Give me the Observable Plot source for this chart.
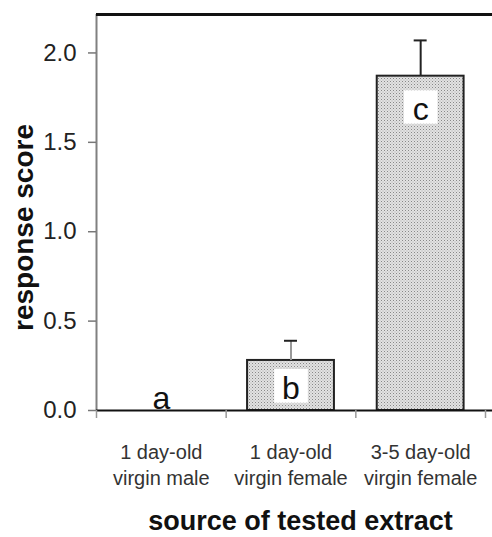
<!DOCTYPE html>
<html>
<head>
<meta charset="utf-8">
<script src="https://cdn.jsdelivr.net/npm/d3@7"></script>
<script src="https://cdn.jsdelivr.net/npm/@observablehq/plot@0.6"></script>
<style>
  html, body { margin: 0; padding: 0; background: #fff; }
  #chart svg { display: block; }
</style>
</head>
<body>
<div id="chart"></div>
<script>
// ---- data ----
const categories = ["1 day-old\nvirgin male", "1 day-old\nvirgin female", "3-5 day-old\nvirgin female"];
const means = [0, 0.28, 1.87];
const errors = [0, 0.11, 0.20];
const letters = ["a", "b", "c"];
const letterY = [0.01, 0.065, 1.625];   // baseline of group letters (response-score units)
const yTicks = [0, 0.5, 1.0, 1.5, 2.0];
const yMax = 2.215;
const yTitle = "response score";
const xTitle = "source of tested extract";

const rows = categories.map((c, i) => ({i, cat: c, mean: means[i], err: errors[i], letter: letters[i], ly: letterY[i]}));
const half = 0.335;
const boundaries = [-0.5, 0.5, 1.5, 2.5];

const font = "'Liberation Sans', Arial, sans-serif";

const chart = Plot.plot({
  width: 492,
  height: 537,
  marginLeft: 96,
  marginRight: 0,
  marginTop: 14,
  marginBottom: 127,
  style: {fontFamily: font, background: "#fff", color: "#222"},
  x: {type: "linear", domain: [-0.5, 2.5], range: [96, 485], axis: null},
  y: {domain: [0, yMax], axis: null},
  marks: [
    // bars
    Plot.rectY(rows.filter(d => d.mean > 0), {
      x1: d => d.i - half, x2: d => d.i + half, y1: 0, y2: "mean",
      fill: "url(#stipple)", stroke: "#222", strokeWidth: 2
    }),
    // error bars
    Plot.ruleX(rows.filter(d => d.err > 0), {
      x: "i", y1: "mean", y2: d => d.mean + d.err,
      stroke: d => d.i === 1 ? "#999" : "#222", strokeWidth: 2
    }),
    Plot.ruleY(rows.filter(d => d.err > 0), {
      y: d => d.mean + d.err, x1: d => d.i - 0.05, x2: d => d.i + 0.05,
      stroke: "#222", strokeWidth: 2
    }),
    // white boxes behind letters
    Plot.dot(rows.filter(d => d.mean > 0), {
      x: "i", y: "ly", symbol: "square", r: 19, fill: "white", stroke: "none", dy: -13
    }),
    // axes lines
    Plot.ruleX([boundaries[0]], {stroke: "#808080", strokeWidth: 2}),
    Plot.ruleY([yMax], {stroke: "#111", strokeWidth: 3}),
    Plot.ruleY([0], {stroke: "#111", strokeWidth: 2}),
    // y axis
    Plot.axisY(yTicks, {
      tickFormat: d3.format(".1f"), tickSize: 8, tickPadding: 12,
      fontSize: 24, stroke: "#777", strokeWidth: 1.5, fill: "#222"
    }),
    // x boundary ticks
    Plot.ruleX(boundaries, {
      x: d => d, y1: 0, y2: 0, insetBottom: -8, stroke: "#999", strokeWidth: 1.5
    }),
    // category labels
    Plot.text(rows, {
      x: "i", text: "cat", frameAnchor: "bottom", lineAnchor: "top", dy: 30,
      fontSize: 20, lineHeight: 1.3, fill: "#333"
    }),
    // group letters
    Plot.text(rows, {
      x: "i", y: "ly", text: "letter", lineAnchor: "bottom", fontSize: 32, fill: "#111"
    }),
    // titles
    Plot.text([xTitle], {
      frameAnchor: "bottom", lineAnchor: "bottom", dy: 119, dx: 6,
      fontSize: 27, fontWeight: "bold", fill: "#111"
    }),
    Plot.text([yTitle], {
      frameAnchor: "left", textAnchor: "middle", rotate: -90, lineAnchor: "top", dx: -83, dy: 15,
      fontSize: 28, fontWeight: "bold", fill: "#111"
    })
  ]
});

// stipple pattern definition
const defs = d3.select(chart).insert("defs", ":first-child");
const pat = defs.append("pattern")
  .attr("id", "stipple").attr("patternUnits", "userSpaceOnUse")
  .attr("width", 3).attr("height", 3);
pat.append("rect").attr("width", 3).attr("height", 3).attr("fill", "#e2e2e2");
pat.append("rect").attr("x", 0).attr("y", 0).attr("width", 1).attr("height", 1).attr("fill", "#888");
pat.append("rect").attr("x", 1.5).attr("y", 1.5).attr("width", 1).attr("height", 1).attr("fill", "#aaa");

document.getElementById("chart").appendChild(chart);
</script>
</body>
</html>
